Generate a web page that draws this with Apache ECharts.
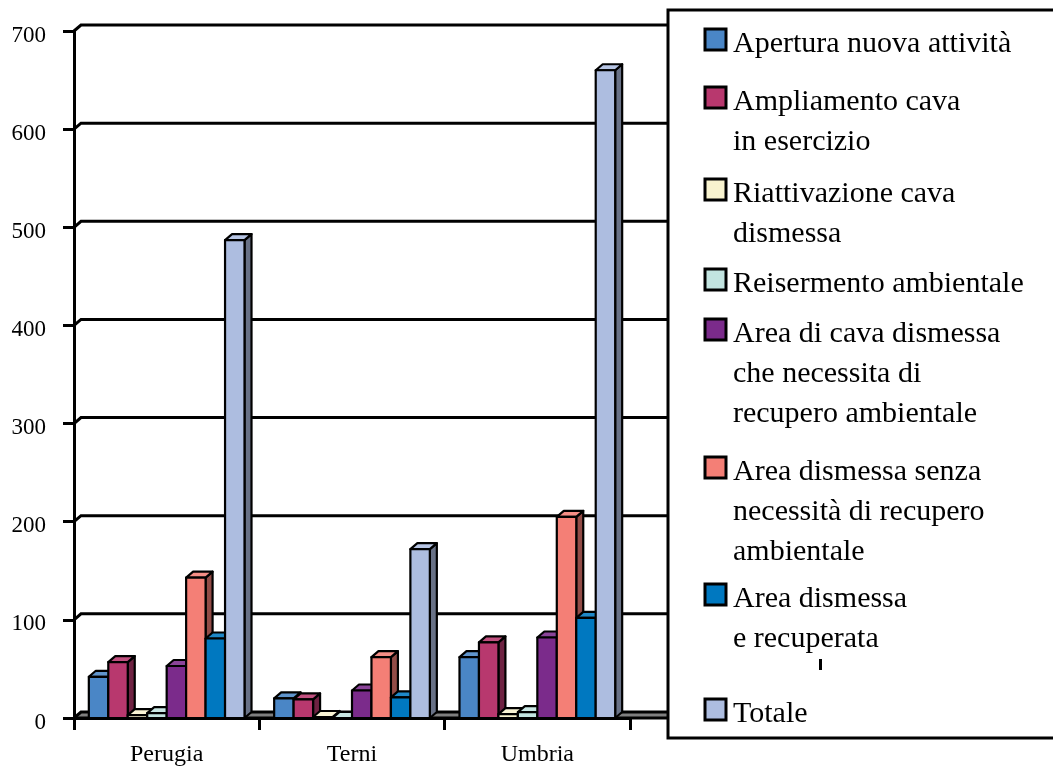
<!DOCTYPE html>
<html>
<head>
<meta charset="utf-8">
<title>Cave</title>
<script src="https://cdn.jsdelivr.net/npm/echarts@6/dist/echarts.min.js"></script>
<style>
  html, body { margin: 0; padding: 0; background: #fff; }
  #chart { width: 1053px; height: 769px; }
</style>
</head>
<body>
<div id="chart"></div>
<script>
// Categories and values (number of sites per type)
const categories = ['Perugia', 'Terni', 'Umbria'];
const apertura = [42, 20, 62];
const ampliamento = [57, 19, 77];
const riattivazione = [3, 1, 4];
const reisermento = [5, 0, 6];
const areaDaRecuperare = [53, 28, 82];
const areaSenzaRecupero = [143, 62, 205];
const areaRecuperata = [81, 21, 102];
const totale = [487, 172, 660];

const yTicks = [0, 100, 200, 300, 400, 500, 600, 700];

const seriesNames = [
  'Apertura nuova attività',
  'Ampliamento cava\nin esercizio',
  'Riattivazione cava\ndismessa',
  'Reisermento ambientale',
  'Area di cava dismessa\nche necessita di\nrecupero ambientale',
  'Area dismessa senza\nnecessità di recupero\nambientale',
  'Area dismessa\ne recuperata',
  'Totale'
];
const seriesValues = [apertura, ampliamento, riattivazione, reisermento,
  areaDaRecuperare, areaSenzaRecupero, areaRecuperata, totale];

// Styling
const colors = ['#4a86c6', '#b8386e', '#f8f3cf', '#c2e4e0', '#7b2b8b', '#f47f76', '#0078c0', '#adbde0'];
const FONT = '"Liberation Serif", "DejaVu Serif", serif';
const DEPTH_X = 7, DEPTH_Y = 6;
const BAR_FRACTION = 0.105;
const legendBaselines = [52, 110, 202, 292, 342, 480, 607, 722];

function shade(hex, f) {
  const n = parseInt(hex.slice(1), 16);
  const c = (v) => Math.min(255, Math.round(v * f)).toString(16).padStart(2, '0');
  return '#' + c((n >> 16) & 255) + c((n >> 8) & 255) + c(n & 255);
}
function tint(hex, f) {
  const n = parseInt(hex.slice(1), 16);
  const mix = (v) => Math.round(v + (255 - v) * f).toString(16).padStart(2, '0');
  return '#' + mix((n >> 16) & 255) + mix((n >> 8) & 255) + mix(n & 255);
}

// Back wall: gridlines offset in depth, and the floor band at zero
function renderWall(params, api) {
  const cs = params.coordSys;
  const v = api.value(1);
  const y = api.coord([0, v])[1];
  const x0 = cs.x;
  const xEnd = cs.x + cs.width + 45;
  const children = [];
  if (v === 0) {
    children.push({
      type: 'polygon',
      shape: { points: [[x0, y], [x0 + DEPTH_X, y - DEPTH_Y], [xEnd, y - DEPTH_Y], [xEnd, y]] },
      style: { fill: '#7f7f7f', stroke: null }
    });
    children.push({
      type: 'line',
      shape: { x1: x0, y1: y, x2: xEnd, y2: y },
      style: { stroke: '#000', lineWidth: 3 }
    });
  }
  children.push({
    type: 'polyline',
    shape: { points: [[x0, y], [x0 + DEPTH_X, y - DEPTH_Y], [xEnd, y - DEPTH_Y]] },
    style: { stroke: '#000', lineWidth: 3, fill: null }
  });
  return { type: 'group', children: children };
}

// 3D column: front face, top face and right side
function makeBarRenderer(k, color) {
  const side = shade(color, 0.6);
  const top = tint(color, 0.12);
  return function (params, api) {
    const cat = api.value(0);
    const val = api.value(1);
    const base = api.coord([cat, 0]);
    const yTop = api.coord([cat, val])[1];
    const band = api.size([1, 0])[0];
    const w = band * BAR_FRACTION;
    const x = base[0] - 4 * w + k * w;
    const y0 = base[1];
    const st = { stroke: '#000', lineWidth: 2.2, lineJoin: 'round' };
    return {
      type: 'group',
      children: [
        { type: 'polygon', shape: { points: [[x + w, yTop], [x + w + DEPTH_X, yTop - DEPTH_Y], [x + w + DEPTH_X, y0 - DEPTH_Y], [x + w, y0]] },
          style: Object.assign({ fill: side }, st) },
        { type: 'polygon', shape: { points: [[x, yTop], [x + DEPTH_X, yTop - DEPTH_Y], [x + w + DEPTH_X, yTop - DEPTH_Y], [x + w, yTop]] },
          style: Object.assign({ fill: top }, st) },
        { type: 'rect', shape: { x: x, y: yTop, width: w, height: y0 - yTop },
          style: Object.assign({ fill: color }, st) }
      ]
    };
  };
}

const series = [{
  type: 'custom',
  name: 'wall',
  renderItem: renderWall,
  data: yTicks.map(v => [0, v]),
  clip: false,
  silent: true,
  z: 1
}];
seriesValues.forEach((vals, k) => {
  series.push({
    type: 'custom',
    name: seriesNames[k],
    renderItem: makeBarRenderer(k, colors[k]),
    data: vals.map((v, i) => [i, v]),
    clip: false,
    z: 3
  });
});

// Legend panel
const legendGraphics = [{
  type: 'rect',
  shape: { x: 668, y: 10, width: 420, height: 728 },
  style: { fill: '#fff', stroke: '#000', lineWidth: 3 },
  z: 100
}];
seriesNames.forEach((name, k) => {
  const b = legendBaselines[k];
  legendGraphics.push({
    type: 'rect',
    shape: { x: 705, y: b - 23, width: 21, height: 21 },
    style: { fill: colors[k], stroke: '#000', lineWidth: 3 },
    z: 101
  });
  legendGraphics.push({
    type: 'text',
    x: 733,
    y: b - 28,
    style: {
      text: name,
      font: '30px ' + FONT,
      fill: '#000',
      lineHeight: 40,
      verticalAlign: 'top',
      align: 'left'
    },
    z: 101
  });
});
legendGraphics.push({
  type: 'rect',
  shape: { x: 819, y: 659, width: 3, height: 11 },
  style: { fill: '#000' },
  z: 101
});

const chart = echarts.init(document.getElementById('chart'), null, { renderer: 'canvas' });
chart.setOption({
  animation: false,
  backgroundColor: '#fff',
  grid: { left: 74, top: 31, right: 423, bottom: 51, outerBoundsMode: 'none' },
  xAxis: {
    type: 'category',
    data: categories,
    boundaryGap: true,
    axisLine: { show: true, lineStyle: { color: '#000', width: 3 } },
    axisTick: { show: true, length: 12, lineStyle: { color: '#000', width: 3 } },
    axisLabel: { color: '#000', fontSize: 24, fontFamily: FONT, margin: 25 },
    splitLine: { show: false }
  },
  yAxis: {
    type: 'value',
    min: 0,
    max: 700,
    interval: 100,
    axisLine: { show: true, lineStyle: { color: '#000', width: 3 } },
    axisTick: { show: true, length: 11, lineStyle: { color: '#000', width: 3 } },
    axisLabel: { color: '#000', fontSize: 23, fontFamily: FONT, margin: 28, verticalAlign: 'top', lineHeight: 23, padding: [-7, 0, 0, 0] },
    splitLine: { show: false }
  },
  series: series,
  graphic: { elements: legendGraphics }
});
</script>
</body>
</html>
